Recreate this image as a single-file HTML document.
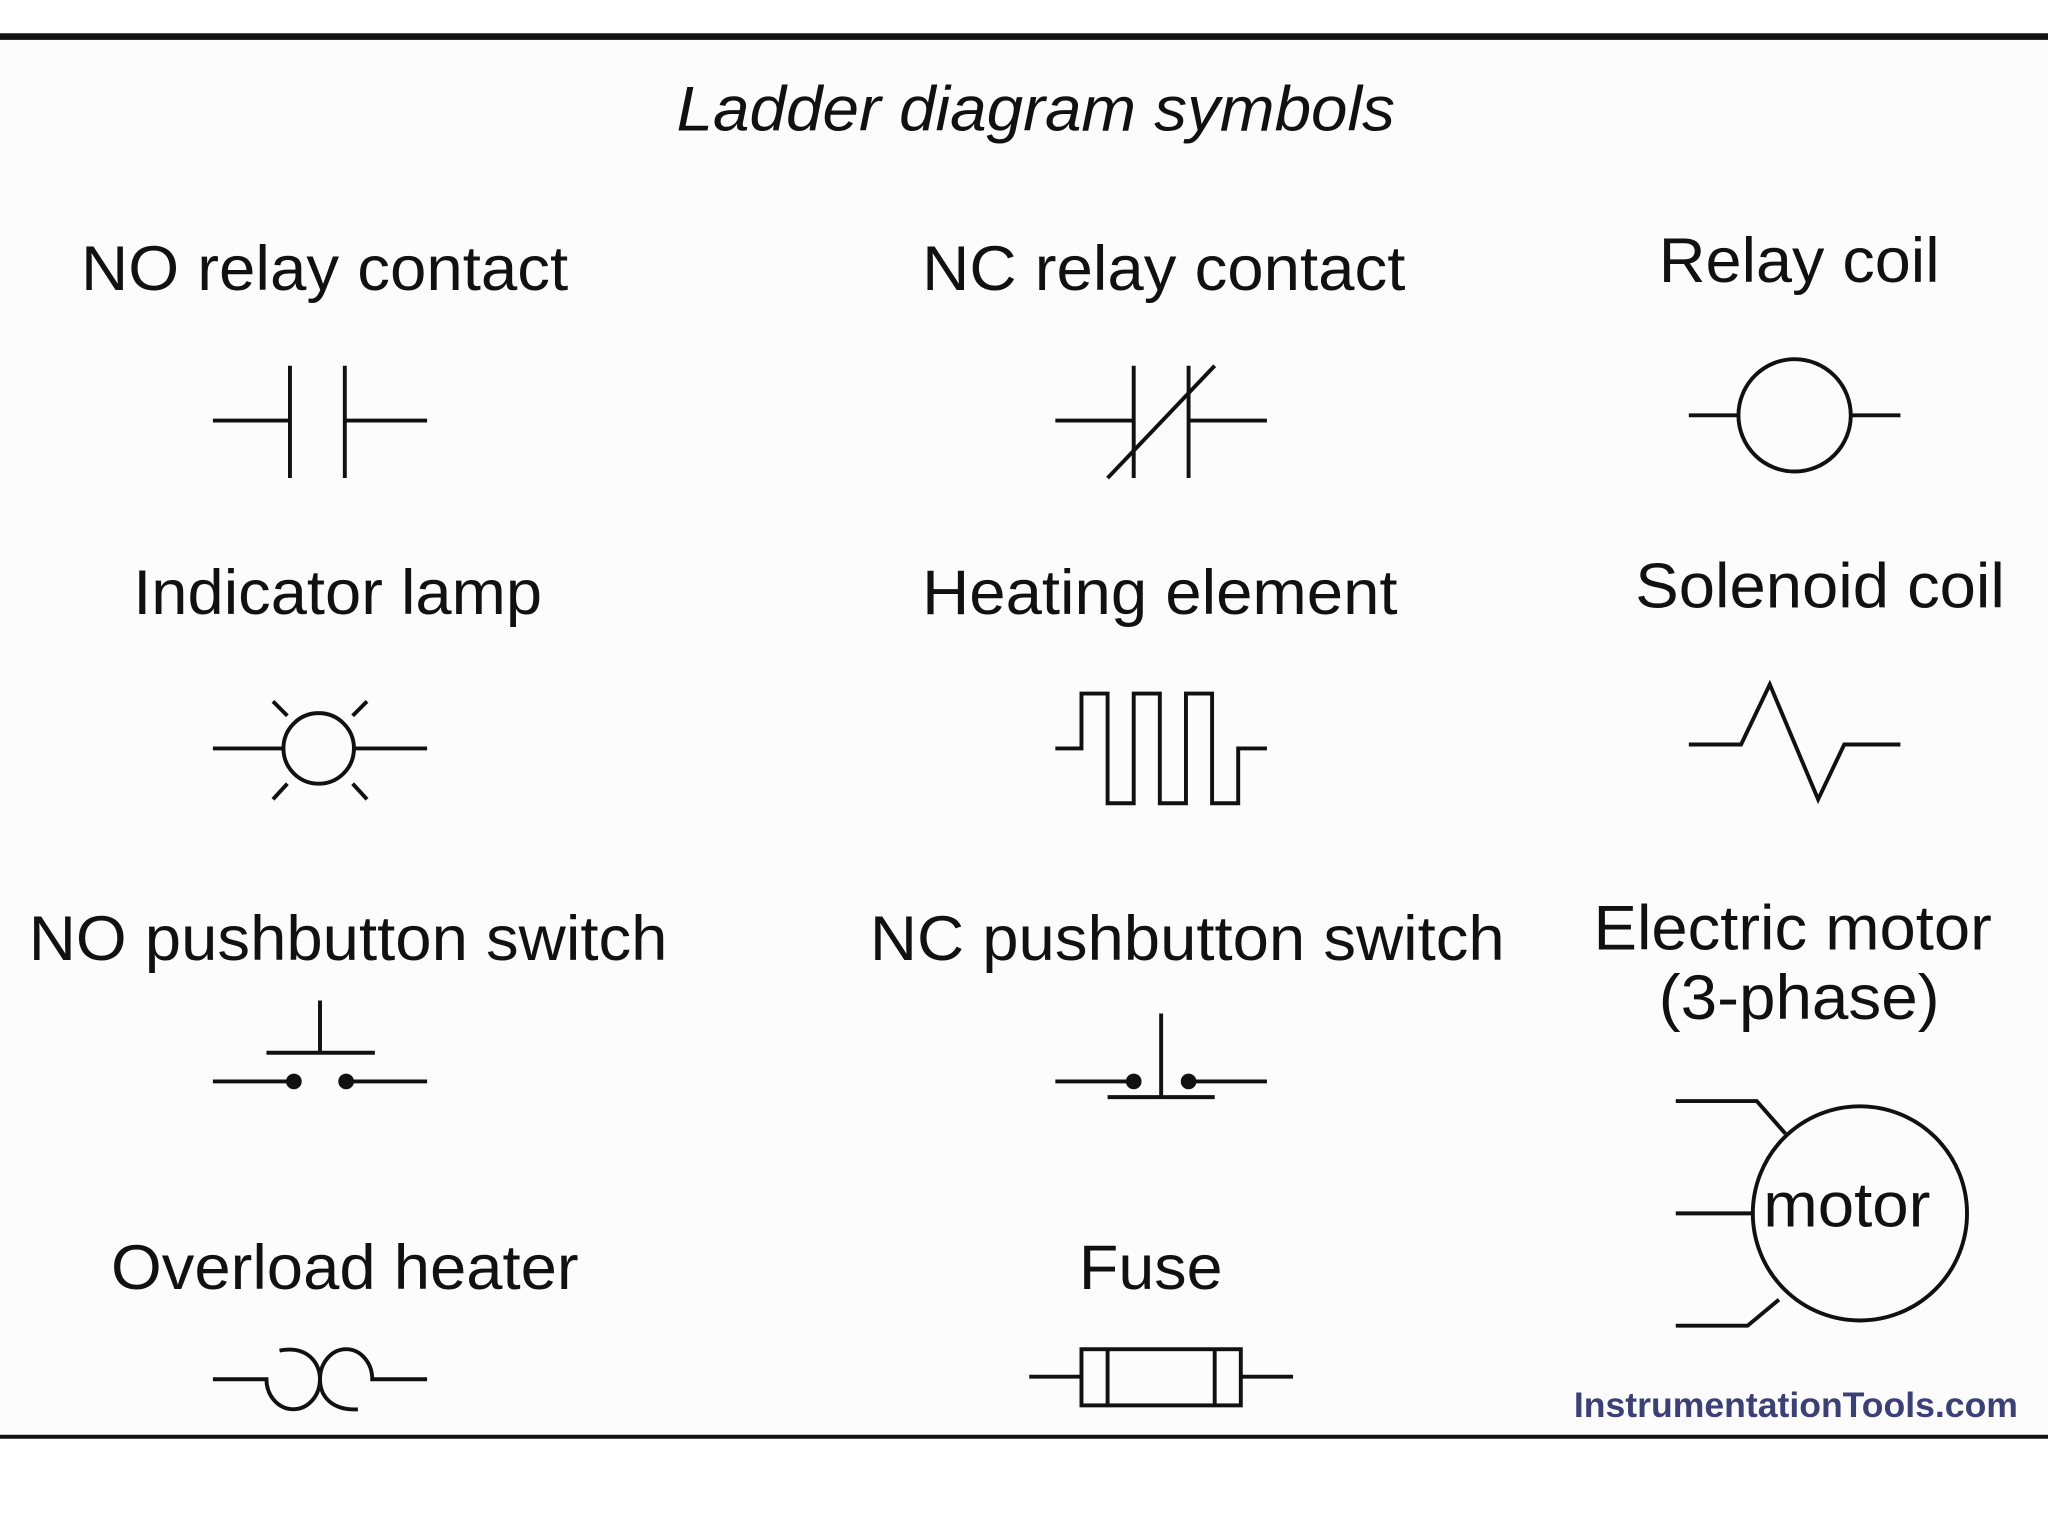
<!DOCTYPE html>
<html><head><meta charset="utf-8"><style>
html,body{margin:0;padding:0;background:#fff;}
svg{display:block;}
text{font-family:"Liberation Sans",Arial,sans-serif;fill:#111;}
</style></head><body>
<svg width="2048" height="1536" viewBox="0 0 1568 1176" xmlns="http://www.w3.org/2000/svg">
<rect x="0" y="30" width="1568" height="1070" fill="#fcfcfc"/>
<line x1="0" y1="28" x2="1568" y2="28" stroke="#111" stroke-width="5"/>
<line x1="0" y1="1100" x2="1568" y2="1100" stroke="#111" stroke-width="3"/>
<text x="518" y="100" font-size="48" font-style="italic" textLength="550" lengthAdjust="spacingAndGlyphs">Ladder diagram symbols</text>

<g font-size="48">
<text x="62" y="222" textLength="373" lengthAdjust="spacingAndGlyphs">NO relay contact</text>
<text x="706" y="222" textLength="370" lengthAdjust="spacingAndGlyphs">NC relay contact</text>
<text x="1270" y="216" textLength="215" lengthAdjust="spacingAndGlyphs">Relay coil</text>
<text x="102" y="470" textLength="313" lengthAdjust="spacingAndGlyphs">Indicator lamp</text>
<text x="706" y="470" textLength="364" lengthAdjust="spacingAndGlyphs">Heating element</text>
<text x="1252" y="465" textLength="283" lengthAdjust="spacingAndGlyphs">Solenoid coil</text>
<text x="22" y="735" textLength="489" lengthAdjust="spacingAndGlyphs">NO pushbutton switch</text>
<text x="666" y="735" textLength="486" lengthAdjust="spacingAndGlyphs">NC pushbutton switch</text>
<text x="1220" y="727" textLength="305" lengthAdjust="spacingAndGlyphs">Electric motor</text>
<text x="1270" y="780" textLength="215" lengthAdjust="spacingAndGlyphs">(3-phase)</text>
<text x="85" y="987" textLength="358" lengthAdjust="spacingAndGlyphs">Overload heater</text>
<text x="826" y="987" textLength="110" lengthAdjust="spacingAndGlyphs">Fuse</text>
<text x="1350" y="939" textLength="128" lengthAdjust="spacingAndGlyphs">motor</text>
</g>

<g stroke="#111" stroke-width="3" fill="none">
<line x1="163" y1="322" x2="222" y2="322"/><line x1="222" y1="280" x2="222" y2="366"/>
<line x1="264" y1="280" x2="264" y2="366"/><line x1="264" y1="322" x2="327" y2="322"/>
<line x1="808" y1="322" x2="868" y2="322"/><line x1="868" y1="280" x2="868" y2="366"/>
<line x1="910" y1="280" x2="910" y2="366"/><line x1="910" y1="322" x2="970" y2="322"/>
<line x1="848" y1="366" x2="930" y2="280"/>
<circle cx="1374" cy="318" r="43"/>
<line x1="1293" y1="318" x2="1331" y2="318"/><line x1="1417" y1="318" x2="1455" y2="318"/>
<circle cx="244" cy="573" r="27"/>
<line x1="163" y1="573" x2="217" y2="573"/><line x1="271" y1="573" x2="327" y2="573"/>
<line x1="209" y1="537" x2="220" y2="548"/><line x1="281" y1="537" x2="270" y2="548"/>
<line x1="209" y1="612" x2="220" y2="600"/><line x1="281" y1="612" x2="270" y2="600"/>
<path d="M808,573 H828 V531 H848 V615 H868 V531 H888 V615 H908 V531 H928 V615 H948 V573 H970"/>
<path d="M1293,570 H1333 L1355,524 L1392,612 L1412,570 H1455"/>
<line x1="163" y1="828" x2="225" y2="828"/><line x1="265" y1="828" x2="327" y2="828"/>
<line x1="204" y1="806" x2="287" y2="806"/><line x1="245" y1="766" x2="245" y2="806"/>
<line x1="808" y1="828" x2="868" y2="828"/><line x1="910" y1="828" x2="970" y2="828"/>
<line x1="848" y1="840" x2="930" y2="840"/><line x1="889" y1="776" x2="889" y2="840"/>
<circle cx="1424" cy="929" r="82"/>
<path d="M1283,843 H1345 L1367,868"/>
<line x1="1283" y1="929" x2="1342" y2="929"/>
<path d="M1283,1015 H1338 L1362,995"/>
<path d="M163,1056 H204 A20.5,23 0 0 0 245,1056 A20,23 0 0 1 285,1056 H327"/>
<path d="M214,1034 C236,1030 245,1044 245,1056 C245,1070 255,1080 274,1079"/>
<line x1="788" y1="1054" x2="828" y2="1054"/><rect x="828" y="1033" width="122" height="43"/>
<line x1="848" y1="1033" x2="848" y2="1076"/><line x1="930" y1="1033" x2="930" y2="1076"/>
<line x1="950" y1="1054" x2="990" y2="1054"/>
</g>
<g fill="#111">
<circle cx="225" cy="828" r="6"/><circle cx="265" cy="828" r="6"/>
<circle cx="868" cy="828" r="6"/><circle cx="910" cy="828" r="6"/>
</g>
<text x="1205" y="1085" font-size="27" font-weight="bold" style="fill:#3c4078" textLength="340" lengthAdjust="spacingAndGlyphs">InstrumentationTools.com</text>
</svg>
</body></html>
